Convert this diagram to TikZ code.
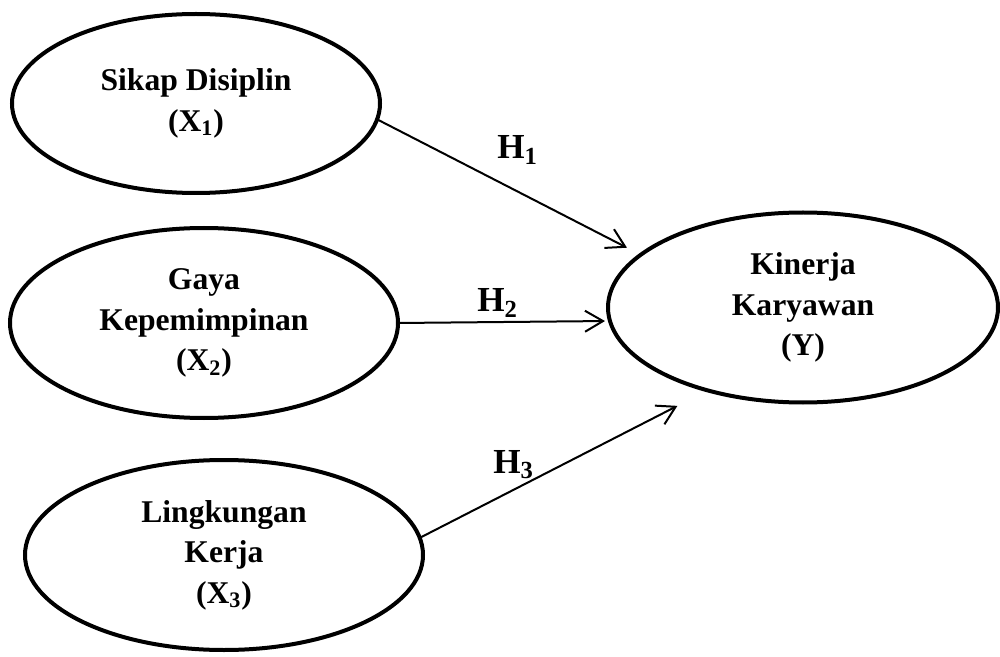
\documentclass[tikz,border=0pt]{standalone}
\usepackage{amsmath}
\usepackage[no-math]{fontspec}
\setmainfont{Liberation Serif}
\usetikzlibrary{shapes.geometric, arrows.meta}

\newcommand{\subvar}[2]{#1$_{\text{#2}}$}

\begin{document}
\begin{tikzpicture}[
		var/.style={draw, ellipse, line width=0.08cm, inner sep=0pt, outer sep=0pt, align=center, font=\fontsize{18}{23}\selectfont\bfseries},
		hyp/.style={-{Straight Barb[length=0.36cm, width=0.42cm]}, line width=0.04cm},
		hlabel/.style={anchor=base west, inner sep=0pt, font=\fontsize{20}{22}\selectfont\bfseries}
	]
		\useasboundingbox (0,0) rectangle (20,-13.14);

		\node[var, minimum width=7.36cm, minimum height=3.58cm] (sd) at (3.92, -2.07) {Sikap Disiplin\\(\subvar{X}{1})};
		\node[var, minimum width=7.76cm, minimum height=3.80cm] (gk) at (4.08, -6.46) {Gaya\\Kepemimpinan\\(\subvar{X}{2})};
		\node[var, minimum width=7.96cm, minimum height=3.80cm] (lk) at (4.48, -11.10) {Lingkungan\\Kerja\\(\subvar{X}{3})};
		\node[var, minimum width=7.80cm, minimum height=3.80cm] (ky) at (16.06, -6.15) {Kinerja\\Karyawan\\(Y)};

		\draw[hyp, shorten >=0.31cm] (sd.-5) -- (ky.162);
		\draw[hyp, shorten >=0.10cm] (gk.east) -- (ky.184.5);
		\draw[hyp, shorten >=0.68cm] (lk.5) -- (ky.221);

		\node[hlabel] (h1) at (9.94, -3.18) {\subvar{H}{1}};
		\node[hlabel] (h2) at (9.54, -6.24) {\subvar{H}{2}};
		\node[hlabel] (h3) at (9.86, -9.46) {\subvar{H}{3}};
	\end{tikzpicture}
\end{document}
